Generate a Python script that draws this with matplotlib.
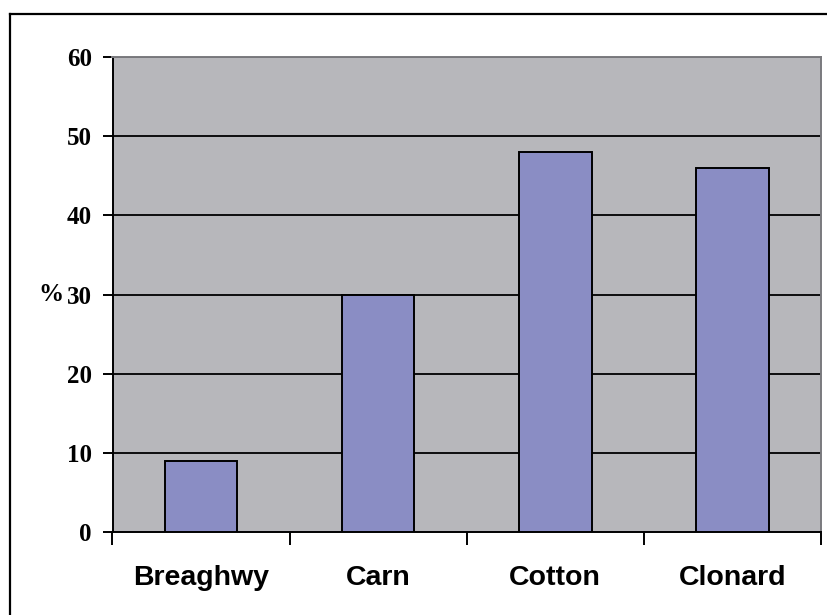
import matplotlib
matplotlib.use("Agg")
import matplotlib.pyplot as plt
from matplotlib.lines import Line2D
import matplotlib.transforms as mtransforms

categories = ["Breaghwy", "Carn", "Cotton", "Clonard"]
values = [9, 30, 48, 46]
yticks = [0, 10, 20, 30, 40, 50, 60]

W, H = 827, 615
fig = plt.figure(figsize=(W / 100, H / 100), dpi=100)
fig.patch.set_facecolor("white")

# outer border (clipped at right/bottom)
fig.add_artist(Line2D([10 / W, 10 / W], [0, 1 - 14 / H], transform=fig.transFigure, color="black", lw=1.6))
fig.add_artist(Line2D([10 / W, 1], [1 - 14 / H, 1 - 14 / H], transform=fig.transFigure, color="black", lw=1.6))

left, right, top, bottom = 112.5, 821, 57, 532
ax = fig.add_axes([left / W, (H - bottom) / H, (right - left) / W, (bottom - top) / H])
ax.set_facecolor("#B7B7BB")

x = list(range(len(categories)))
ax.bar(x, values, width=0.41, color="#8A8DC4", edgecolor="black", linewidth=1.4, zorder=3)

ax.set_xlim(-0.5, len(categories) - 0.5)
ax.set_ylim(0, 60)
ax.set_yticks(yticks)
ax.set_yticklabels([str(v) for v in yticks], fontfamily="Liberation Serif", fontweight="bold", fontsize=18)
ax.tick_params(axis="y", direction="out", length=7, width=1.4, color="black", pad=8)
for v in yticks[1:]:
    ax.axhline(v, color="black", lw=1.3, zorder=1)

ax.set_xticks([i - 0.5 for i in range(len(categories) + 1)])
ax.set_xticklabels([])
ax.set_xticks(x, minor=True)
ax.set_xticklabels(categories, minor=True, fontfamily="Liberation Sans", fontweight="bold", fontsize=20.5)
ax.tick_params(axis="x", which="major", direction="out", length=9, width=1.4, color="black")
ax.tick_params(axis="x", which="minor", length=0, pad=23.5)

ax.spines["left"].set_color("black")
ax.spines["left"].set_linewidth(1.4)
ax.spines["bottom"].set_color("black")
ax.spines["bottom"].set_linewidth(1.4)
ax.spines["top"].set_color("#7A7A7E")
ax.spines["top"].set_linewidth(1.4)
ax.spines["right"].set_color("#7A7A7E")
ax.spines["right"].set_linewidth(1.4)

trans = mtransforms.blended_transform_factory(fig.transFigure, ax.transData)
ax.text(51 / W, 30, "%", transform=trans, ha="center", va="center",
        fontfamily="Liberation Serif", fontweight="bold", fontsize=18)

fig.savefig("out.png", dpi=100)
